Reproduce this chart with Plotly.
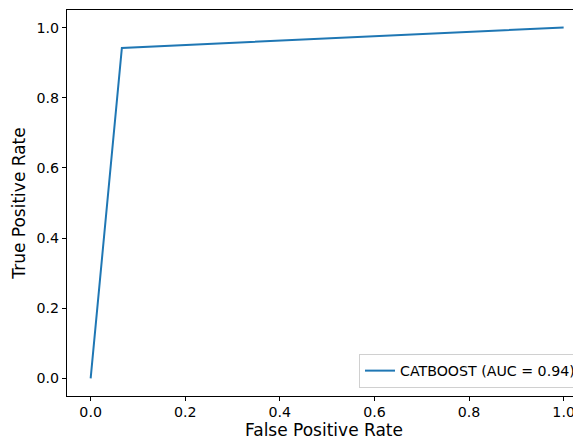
import plotly.graph_objects as go

fpr = [0.0, 0.066, 1.0]
tpr = [0.0, 0.942, 1.0]
label = "CATBOOST (AUC = 0.94)"
ticks = [0.0, 0.2, 0.4, 0.6, 0.8, 1.0]
tick_text = ["0.0", "0.2", "0.4", "0.6", "0.8", "1.0"]

fig = go.Figure()
fig.add_trace(go.Scatter(x=fpr, y=tpr, mode="lines", name=label,
                         line=dict(color="#1f77b4", width=2)))

font = dict(family="DejaVu Sans", size=14.2, color="black")
fig.update_layout(
    width=573, height=432,
    margin=dict(l=59, r=0, t=2, b=44),
    paper_bgcolor="white", plot_bgcolor="white",
    font=font,
    showlegend=True,
    legend=dict(x=1.0, y=0.021, xanchor="right", yanchor="bottom",
                bordercolor="#d0d0d0", borderwidth=1, bgcolor="rgba(255,255,255,0.8)",
                font=dict(family="DejaVu Sans", size=14.2, color="black"),
                itemwidth=30),
)
fig.update_xaxes(range=[-0.05, 1.0367], tickvals=ticks, ticktext=tick_text,
                 showgrid=False, zeroline=False, showline=True, linecolor="black",
                 linewidth=1, mirror=True, ticks="outside", ticklen=4, tickcolor="black",
                 ticklabelstandoff=-1, automargin=False,
                 title=dict(text="False Positive Rate", standoff=2))
fig.update_yaxes(range=[-0.05, 1.05], tickvals=ticks, ticktext=tick_text,
                 showgrid=False, zeroline=False, showline=True, linecolor="black",
                 linewidth=1, ticks="outside", ticklen=4, tickcolor="black",
                 automargin=False,
                 title=dict(text="True Positive Rate", standoff=6))

fig.write_html("out.html")
